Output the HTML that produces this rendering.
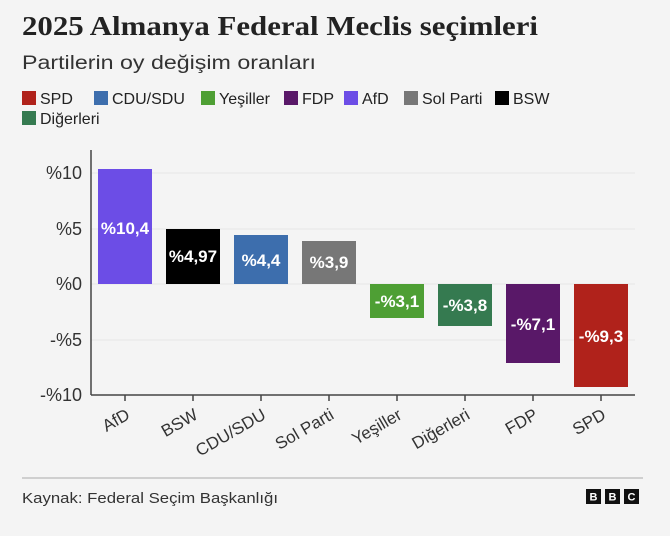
<!DOCTYPE html>
<html><head><meta charset="utf-8"><style>
body{margin:0;background:#f4f4f4;}
svg{display:block;font-family:"Liberation Sans",sans-serif;}
</style></head><body>
<svg width="670" height="536" viewBox="0 0 670 536">
<rect width="670" height="536" fill="#f4f4f4"/>
<text x="22" y="35" font-family="Liberation Serif,serif" font-weight="bold" font-size="27" fill="#222" textLength="516" lengthAdjust="spacingAndGlyphs">2025 Almanya Federal Meclis seçimleri</text>
<text x="22" y="69" font-size="19" fill="#333" textLength="294" lengthAdjust="spacingAndGlyphs">Partilerin oy değişim oranları</text>
<g font-size="16" fill="#222">
<rect x="22" y="91" width="14" height="14" fill="#b0221b"/><text x="40" y="104">SPD</text>
<rect x="94" y="91" width="14" height="14" fill="#3d6ead"/><text x="112" y="104">CDU/SDU</text>
<rect x="201" y="91" width="14" height="14" fill="#4e9f34"/><text x="219" y="104">Yeşiller</text>
<rect x="284" y="91" width="14" height="14" fill="#591868"/><text x="302" y="104">FDP</text>
<rect x="344" y="91" width="14" height="14" fill="#6c4de6"/><text x="362" y="104">AfD</text>
<rect x="404" y="91" width="14" height="14" fill="#777"/><text x="422" y="104">Sol Parti</text>
<rect x="495" y="91" width="14" height="14" fill="#000"/><text x="513" y="104">BSW</text>
<rect x="22" y="111" width="14" height="14" fill="#357a50"/><text x="40" y="124">Diğerleri</text>
</g>
<g stroke="#e6e6e6" stroke-width="1">
<line x1="91" x2="635" y1="173" y2="173"/><line x1="91" x2="635" y1="229" y2="229"/>
<line x1="91" x2="635" y1="284" y2="284"/><line x1="91" x2="635" y1="340" y2="340"/>
</g>
<g font-size="18" fill="#333" text-anchor="end">
<text x="82" y="179">%10</text><text x="82" y="235">%5</text><text x="82" y="290">%0</text>
<text x="82" y="346">-%5</text><text x="82" y="401">-%10</text>
</g>
<g>
<rect x="98" y="169" width="54" height="115" fill="#6c4de6"/>
<rect x="166" y="229" width="54" height="55" fill="#000"/>
<rect x="234" y="235" width="54" height="49" fill="#3d6ead"/>
<rect x="302" y="241" width="54" height="43" fill="#777"/>
<rect x="370" y="284" width="54" height="34" fill="#4e9f34"/>
<rect x="438" y="284" width="54" height="42" fill="#357a50"/>
<rect x="506" y="284" width="54" height="79" fill="#591868"/>
<rect x="574" y="284" width="54" height="103" fill="#b0221b"/>
</g>
<g font-size="17" font-weight="bold" fill="#fff" text-anchor="middle">
<text x="125" y="234">%10,4</text><text x="193" y="262">%4,97</text>
<text x="261" y="266">%4,4</text><text x="329" y="268">%3,9</text>
<text x="397" y="307">-%3,1</text><text x="465" y="311">-%3,8</text>
<text x="533" y="330">-%7,1</text><text x="601" y="342">-%9,3</text>
</g>
<g stroke="#444" stroke-width="1.5">
<line x1="91" x2="91" y1="150" y2="395"/><line x1="91" x2="635" y1="395" y2="395"/>
<line x1="125" x2="125" y1="395" y2="401"/><line x1="193" x2="193" y1="395" y2="401"/>
<line x1="261" x2="261" y1="395" y2="401"/><line x1="329" x2="329" y1="395" y2="401"/>
<line x1="397" x2="397" y1="395" y2="401"/><line x1="465" x2="465" y1="395" y2="401"/>
<line x1="533" x2="533" y1="395" y2="401"/><line x1="601" x2="601" y1="395" y2="401"/>
</g>
<g font-size="17" fill="#333" text-anchor="end">
<text transform="translate(131,418) rotate(-30)">AfD</text>
<text transform="translate(199,418) rotate(-30)">BSW</text>
<text transform="translate(267,418) rotate(-30)">CDU/SDU</text>
<text transform="translate(335,418) rotate(-30)">Sol Parti</text>
<text transform="translate(403,418) rotate(-30)">Yeşiller</text>
<text transform="translate(471,418) rotate(-30)">Diğerleri</text>
<text transform="translate(539,418) rotate(-30)">FDP</text>
<text transform="translate(607,418) rotate(-30)">SPD</text>
</g>
<line x1="22" x2="643" y1="478" y2="478" stroke="#aaa" stroke-width="1"/>
<text x="22" y="503" font-size="15" fill="#333" textLength="256" lengthAdjust="spacingAndGlyphs">Kaynak: Federal Seçim Başkanlığı</text>
<g><rect x="586" y="489" width="15" height="15" fill="#111"/><rect x="605" y="489" width="15" height="15" fill="#111"/><rect x="624" y="489" width="15" height="15" fill="#111"/></g>
<g font-size="11" font-weight="bold" fill="#fff" text-anchor="middle">
<text x="593.5" y="500.5">B</text><text x="612.5" y="500.5">B</text><text x="631.5" y="500.5">C</text></g>
</svg>
</body></html>
